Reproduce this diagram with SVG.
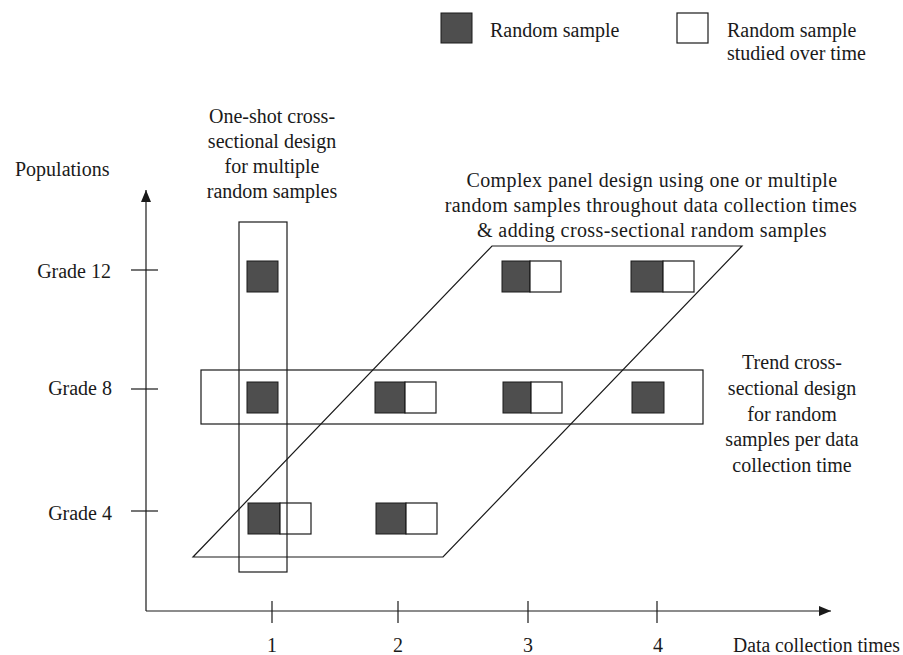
<svg xmlns="http://www.w3.org/2000/svg" width="903" height="655" viewBox="0 0 903 655">
  <defs>
    <marker id="arrow" viewBox="0 0 12 10" refX="12" refY="5" markerWidth="12" markerHeight="10" markerUnits="userSpaceOnUse" orient="auto">
      <path d="M0,0 L12,5 L0,10 Z" fill="#1a1a1a"/>
    </marker>
  </defs>
  <style>
    text { font-family: "Liberation Serif", "Times New Roman", serif; font-size: 20px; fill: #1a1a1a; }
    .mid { text-anchor: middle; }
    .end { text-anchor: end; }
    .wide { letter-spacing: 0.4px; }
    .line { fill: none; stroke: #1a1a1a; stroke-width: 1.2; }
    .rs { fill: #4e4e4e; stroke: #1a1a1a; stroke-width: 1; }
    .ot { fill: #ffffff; stroke: #1a1a1a; stroke-width: 1.2; }
  </style>
  <rect width="903" height="655" fill="#ffffff"/>

  <!-- legend -->
  <g id="legend">
    <rect class="rs" x="441" y="13" width="31" height="30"/>
    <text x="490" y="37">Random sample</text>
    <rect class="ot" x="677" y="13" width="31" height="30"/>
    <text x="727" y="37">Random sample</text>
    <text x="727" y="60">studied over time</text>
  </g>

  <!-- axes -->
  <g id="axes">
    <line class="line" x1="146" y1="611" x2="146" y2="190" marker-end="url(#arrow)"/>
    <line class="line" x1="146" y1="611" x2="831" y2="611" marker-end="url(#arrow)"/>
    <line class="line" x1="131" y1="270" x2="158" y2="270"/>
    <line class="line" x1="131" y1="389" x2="158" y2="389"/>
    <line class="line" x1="131" y1="511" x2="158" y2="511"/>
    <line class="line" x1="272" y1="601" x2="272" y2="623"/>
    <line class="line" x1="398" y1="601" x2="398" y2="623"/>
    <line class="line" x1="528" y1="601" x2="528" y2="623"/>
    <line class="line" x1="657" y1="601" x2="657" y2="623"/>
    <text x="15" y="176">Populations</text>
    <text class="end" x="111" y="278">Grade 12</text>
    <text class="end" x="112" y="395">Grade 8</text>
    <text class="end" x="112" y="520">Grade 4</text>
    <text class="mid" x="272" y="652">1</text>
    <text class="mid" x="398" y="652">2</text>
    <text class="mid" x="528" y="652">3</text>
    <text class="mid" x="658" y="652">4</text>
    <text x="733" y="652" textLength="167" lengthAdjust="spacingAndGlyphs">Data collection times</text>
  </g>

  <!-- samples: grade 12 -->
  <g id="g12-t1"><rect class="rs" x="247" y="261" width="31" height="31"/></g>
  <g id="g12-t3"><rect class="rs" x="502" y="261" width="28" height="31"/><rect class="ot" x="530" y="261" width="31" height="31"/></g>
  <g id="g12-t4"><rect class="rs" x="631" y="261" width="32" height="31"/><rect class="ot" x="663" y="261" width="31" height="31"/></g>

  <!-- samples: grade 8 -->
  <g id="g8-t1"><rect class="rs" x="247" y="382" width="31" height="31"/></g>
  <g id="g8-t2"><rect class="rs" x="375" y="382" width="30" height="31"/><rect class="ot" x="405" y="382" width="31" height="31"/></g>
  <g id="g8-t3"><rect class="rs" x="503" y="382" width="28" height="31"/><rect class="ot" x="531" y="382" width="31" height="31"/></g>
  <g id="g8-t4"><rect class="rs" x="632" y="382" width="32" height="31"/></g>

  <!-- samples: grade 4 -->
  <g id="g4-t1"><rect class="rs" x="248" y="503" width="32" height="31"/><rect class="ot" x="280" y="503" width="31" height="31"/></g>
  <g id="g4-t2"><rect class="rs" x="376" y="503" width="30" height="31"/><rect class="ot" x="406" y="503" width="31" height="31"/></g>

  <!-- design outlines -->
  <g id="one-shot">
    <rect class="line" x="239" y="222" width="48" height="350"/>
    <text class="mid" x="272" y="123">One-shot cross-</text>
    <text class="mid" x="272" y="148">sectional design</text>
    <text class="mid" x="272" y="173">for multiple</text>
    <text class="mid" x="272" y="198">random samples</text>
  </g>
  <g id="trend">
    <rect class="line" x="201" y="370" width="502" height="54"/>
    <text class="mid" x="792" y="369">Trend cross-</text>
    <text class="mid" x="792" y="395">sectional design</text>
    <text class="mid" x="792" y="421">for random</text>
    <text class="mid" x="792" y="446">samples per data</text>
    <text class="mid" x="792" y="472">collection time</text>
  </g>
  <g id="complex-panel">
    <polygon class="line" points="193,557 443,557 742,246 492,246"/>
    <text class="mid wide" x="652" y="187">Complex panel design using one or multiple</text>
    <text class="mid wide" x="651" y="212">random samples throughout data collection times</text>
    <text class="mid wide" x="652" y="237">&amp; adding cross-sectional random samples</text>
  </g>
</svg>
